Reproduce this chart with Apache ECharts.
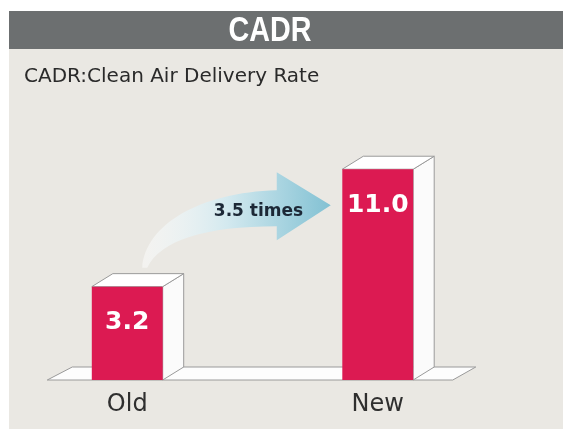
<!DOCTYPE html>
<html><head><meta charset="utf-8">
<script src="https://cdn.jsdelivr.net/npm/echarts@6/dist/echarts.min.js"></script>
<style>html,body{margin:0;padding:0;background:#fff}#c{width:563px;height:429px}</style>
</head><body><div id="c"></div>
<script>
var categories = ['Old', 'New'];
var cadrValues = [3.2, 11.0];
var valueLabels = ['3.2', '11.0'];
var ratioLabel = '3.5 times';
var titleText = 'CADR';
var subtitleText = 'CADR:Clean Air Delivery Rate';

var BASE = -3;
var chart = echarts.init(document.getElementById('c'), null, {renderer: 'canvas'});

function arrowElements(api) {
  var pOld = api.coord([0, cadrValues[0]]);
  var pNew = api.coord([1, cadrValues[1]]);
  var sx = pOld[0] + 15, sy = pOld[1] - 19;
  var tx = pNew[0] - 47, ty = pNew[1] + 36;
  var hx = tx - 54;
  var path = 'M' + sx + ' ' + sy +
    ' C' + (sx + 3) + ' ' + (sy - 43) + ' ' + (sx + 58) + ' ' + (ty - 13) + ' ' + hx + ' ' + (ty - 15) +
    ' L' + hx + ' ' + (ty - 33) +
    ' L' + tx + ' ' + ty +
    ' L' + hx + ' ' + (ty + 35) +
    ' L' + hx + ' ' + (ty + 21) +
    ' C' + (sx + 63) + ' ' + (ty + 21) + ' ' + (sx + 18) + ' ' + (ty + 35) + ' ' + (sx + 5) + ' ' + sy + ' Z';
  return [
    {type: 'path', shape: {pathData: path}, style: {fill: {type: 'linear', global: true, x: sx, y: 0, x2: tx, y2: 0, colorStops: [
      {offset: 0, color: 'rgba(255,255,255,0.45)'}, {offset: 0.45, color: '#d3e9ef'}, {offset: 1, color: '#82c1d3'}]}}},
    {type: 'text', x: (sx + tx) / 2 + 22, y: ty + 6, style: {text: ratioLabel, fill: '#1c2836', font: 'bold 17px "DejaVu Sans"', align: 'center', verticalAlign: 'middle'}}
  ];
}

function renderBar(params, api) {
  var i = api.value(0), v = api.value(1);
  var top = api.coord([i, v]);
  var base = api.coord([i, BASE]);
  var cw = api.size([1, 0])[0];
  var w = cw * 0.283;
  var x0 = top[0] - w / 2, x1 = top[0] + w / 2;
  var dx = 21, dy = -13;
  var line = '#9a9a9a';
  var children = [];
  if (params.dataIndex === 0) {
    var b0 = api.coord([0, BASE]), b1 = api.coord([categories.length - 1, BASE]);
    var L = b0[0] - 80, R = b1[0] + 75, fy = b0[1];
    children.push({type: 'polygon', shape: {points: [[L, fy], [R, fy], [R + 23, fy - 13], [L + 25, fy - 13]]},
      style: {fill: '#fdfdfd', stroke: line, lineWidth: 1}});
  }
  children.push({type: 'polygon', shape: {points: [[x1, top[1]], [x1 + dx, top[1] + dy], [x1 + dx, base[1] + dy], [x1, base[1]]]},
    style: {fill: '#fbfbfb', stroke: line, lineWidth: 1}});
  children.push({type: 'polygon', shape: {points: [[x0, top[1]], [x1, top[1]], [x1 + dx, top[1] + dy], [x0 + dx, top[1] + dy]]},
    style: {fill: '#ffffff', stroke: line, lineWidth: 1}});
  children.push({type: 'rect', shape: {x: x0, y: top[1], width: w, height: base[1] - top[1]},
    style: {fill: '#dc1a52'}});
  children.push({type: 'text', x: top[0], y: top[1] + 36,
    style: {text: valueLabels[params.dataIndex], fill: '#ffffff', font: 'bold 25px "DejaVu Sans"', align: 'center', verticalAlign: 'middle'}});
  if (params.dataIndex === categories.length - 1) {
    children = children.concat(arrowElements(api));
  }
  return {type: 'group', children: children};
}

chart.setOption({
  backgroundColor: '#ffffff',
  animation: false,
  grid: {left: 2, right: 60, top: 109, bottom: 49},
  xAxis: {type: 'category', data: categories, axisLine: {show: false}, axisTick: {show: false},
    axisLabel: {fontSize: 24, fontFamily: 'DejaVu Sans', color: '#2f2f2f', margin: 13, lineHeight: 24}},
  yAxis: {type: 'value', min: BASE, max: 15, show: false, splitLine: {show: false}},
  graphic: [
    {type: 'rect', z: -10, shape: {x: 9, y: 11, width: 554, height: 418}, style: {fill: '#eae8e3'}},
    {type: 'rect', z: -9, shape: {x: 9, y: 11, width: 554, height: 38}, style: {fill: '#6c6f70'}},
    {type: 'text', z: -8, x: 270, y: 31, scaleX: 0.82, style: {text: titleText, fill: '#ffffff', font: 'bold 35px "Liberation Sans"', align: 'center', verticalAlign: 'middle'}},
    {type: 'text', z: -8, x: 24, y: 77, style: {text: subtitleText, fill: '#2a2a2a', font: '20px "DejaVu Sans"', align: 'left', verticalAlign: 'middle'}}
  ],
  series: [{type: 'custom', renderItem: renderBar, data: cadrValues.map(function (v, i) { return [i, v]; })}]
});
</script>
</body></html>
